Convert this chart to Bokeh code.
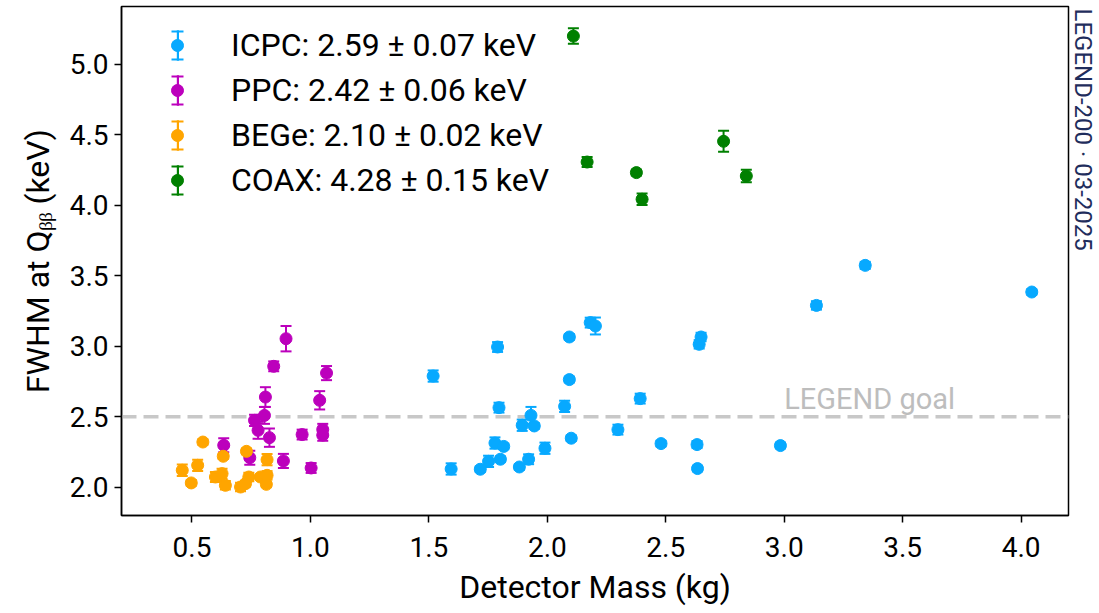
from bokeh.plotting import figure
from bokeh.models import (ColumnDataSource, Range1d, FixedTicker, Span, Label, Title,
                          Legend, LegendItem, NumeralTickFormatter)
from bokeh.embed import file_html
from bokeh.resources import INLINE

# ---------------- data ----------------
icpc_mass = [1.518, 1.790, 1.796, 1.779, 1.816, 1.802, 1.752, 1.717, 1.594, 1.882,
             1.921, 1.990, 1.894, 1.945, 1.931, 2.073, 2.093, 2.093, 2.101, 2.181,
             2.203, 2.298, 2.392, 2.480, 2.632, 2.634, 2.649, 2.641, 2.984, 3.136,
             3.342, 4.045]
icpc_fwhm = [2.789, 2.995, 2.565, 2.314, 2.290, 2.199, 2.184, 2.128, 2.130, 2.144,
             2.199, 2.277, 2.440, 2.435, 2.510, 2.574, 2.764, 3.066, 2.348, 3.168,
             3.144, 2.409, 2.629, 2.310, 2.303, 2.133, 3.066, 3.014, 2.296, 3.290,
             3.574, 3.385]
icpc_err = [0.040, 0.035, 0.035, 0.040, 0.020, 0.020, 0.040, 0.020, 0.040, 0.020,
            0.035, 0.040, 0.040, 0.020, 0.060, 0.040, 0.020, 0.020, 0.020, 0.035,
            0.060, 0.035, 0.035, 0.020, 0.025, 0.020, 0.030, 0.030, 0.020, 0.030,
            0.025, 0.020]

ppc_mass = [0.897, 0.845, 1.068, 0.810, 1.039, 0.806, 0.764, 0.779, 0.827, 0.965,
            1.052, 1.052, 0.634, 0.744, 0.886, 1.003]
ppc_fwhm = [3.054, 2.858, 2.810, 2.640, 2.617, 2.510, 2.475, 2.404, 2.352, 2.374,
            2.410, 2.370, 2.298, 2.210, 2.187, 2.137]
ppc_err = [0.090, 0.035, 0.050, 0.070, 0.065, 0.060, 0.040, 0.060, 0.065, 0.035,
           0.040, 0.040, 0.050, 0.050, 0.050, 0.035]

bege_mass = [0.546, 0.632, 0.730, 0.817, 0.459, 0.524, 0.497, 0.599, 0.641, 0.627,
             0.705, 0.726, 0.740, 0.789, 0.817, 0.814]
bege_fwhm = [2.321, 2.220, 2.255, 2.196, 2.121, 2.156, 2.031, 2.073, 2.014, 2.097,
             2.002, 2.026, 2.073, 2.073, 2.085, 2.021]
bege_err = [0.020, 0.020, 0.020, 0.040, 0.040, 0.040, 0.020, 0.035, 0.030, 0.035,
            0.030, 0.020, 0.030, 0.020, 0.030, 0.020]

coax_mass = [2.110, 2.168, 2.376, 2.400, 2.744, 2.840]
coax_fwhm = [5.200, 4.307, 4.232, 4.043, 4.454, 4.208]
coax_err = [0.055, 0.035, 0.020, 0.040, 0.075, 0.045]

series_labels = ["ICPC: 2.59 \u00b1 0.07 keV", "PPC: 2.42 \u00b1 0.06 keV",
                 "BEGe: 2.10 \u00b1 0.02 keV", "COAX: 4.28 \u00b1 0.15 keV"]
series_colors = ["#07A9FF", "#BC00BC", "#FFA500", "#008000"]

goal_fwhm = 2.5
goal_text = "LEGEND goal"
goal_text_x = 3.0
xticks = [0.5, 1.0, 1.5, 2.0, 2.5, 3.0, 3.5, 4.0]
yticks = [2.0, 2.5, 3.0, 3.5, 4.0, 4.5, 5.0]
stamp_text = "LEGEND-200 \u00b7 03-2025"

FONT = "Roboto"

# ---------------- figure ----------------
p = figure(width=1098, height=608, output_backend="svg", toolbar_location=None,
           x_range=Range1d(0.2025, 4.2), y_range=Range1d(1.80, 5.41),
           min_border_left=121, min_border_right=30, min_border_top=6,
           min_border_bottom=93, background_fill_color="white",
           border_fill_color="white")
p.grid.visible = False
p.outline_line_color = "black"
p.outline_line_width = 1.5
p.outline_line_alpha = 1.0

p.xaxis.ticker = FixedTicker(ticks=xticks)
p.yaxis.ticker = FixedTicker(ticks=yticks)
p.xaxis.formatter = NumeralTickFormatter(format="0.0")
p.yaxis.formatter = NumeralTickFormatter(format="0.0")
p.xaxis.axis_label = "Detector Mass (kg)"
p.yaxis.axis_label = "FWHM at Q\u1d66\u1d66 (keV)"
for ax in (p.xaxis[0], p.yaxis[0]):
    ax.axis_line_color = "black"
    ax.axis_line_width = 1.5
    ax.major_tick_line_color = "black"
    ax.major_tick_line_width = 1.5
    ax.major_tick_out = 7
    ax.major_tick_in = 0
    ax.minor_tick_line_color = None
    ax.major_label_text_font = FONT
    ax.major_label_text_font_size = "28px"
    ax.major_label_text_color = "black"
    ax.axis_label_text_font = FONT
    ax.axis_label_text_font_size = "32px"
    ax.axis_label_text_font_style = "normal"
    ax.axis_label_text_color = "black"
p.xaxis.major_label_standoff = 14
p.yaxis.major_label_standoff = 6
p.xaxis.axis_label_standoff = 8
p.yaxis.axis_label_standoff = 10

# goal line + label
p.add_layout(Span(location=goal_fwhm, dimension="width", line_color="#C8C8C8",
                  line_width=3.5, line_dash="15 7", level="underlay"))
p.add_layout(Label(x=goal_text_x, y=goal_fwhm, y_offset=18, text=goal_text,
                   text_font=FONT, text_font_size="29px", text_color="#BDBDBD",
                   text_align="left", text_baseline="alphabetic"))

# ---------------- series ----------------
datasets = [(icpc_mass, icpc_fwhm, icpc_err), (ppc_mass, ppc_fwhm, ppc_err),
            (bege_mass, bege_fwhm, bege_err), (coax_mass, coax_fwhm, coax_err)]

main_items, body_items, capt_items, capb_items = [], [], [], []
for (m, f, e), lab, col in zip(datasets, series_labels, series_colors):
    src = ColumnDataSource(dict(x=m, y=f,
                                lo=[a - b for a, b in zip(f, e)],
                                hi=[a + b for a, b in zip(f, e)],
                                h=[2 * b for b in e]))
    body = p.rect(x="x", y="y", width=2, height="h", width_units="screen",
                  source=src, fill_color=col, line_color=None)
    capt = p.scatter(x="x", y="hi", source=src, marker="dash", size=11,
                     line_color=col, line_width=2)
    capb = p.scatter(x="x", y="lo", source=src, marker="dash", size=11,
                     line_color=col, line_width=2)
    pts = p.scatter(x="x", y="y", source=src, marker="circle", size=12,
                    fill_color=col, line_color=col, line_width=1)
    main_items.append(LegendItem(label=lab, renderers=[pts]))
    body_items.append(LegendItem(label="", renderers=[body]))
    capt_items.append(LegendItem(label="", renderers=[capt]))
    capb_items.append(LegendItem(label="", renderers=[capb]))

common = dict(padding=0, margin=0, spacing=7, label_height=38, glyph_height=38,
              border_line_color=None, background_fill_alpha=0,
              label_text_font=FONT, label_text_font_size="32px",
              label_text_color="black")
leg_body = Legend(items=body_items, location=(54.5, 316), glyph_width=3, **common)
leg_capt = Legend(items=capt_items, location=(41, 330), glyph_width=30, **common)
leg_capb = Legend(items=capb_items, location=(41, 302), glyph_width=30, **common)
leg_main = Legend(items=main_items, location=(41, 316), glyph_width=30,
                  label_standoff=39, **common)
for lg in (leg_body, leg_capt, leg_capb, leg_main):
    p.add_layout(lg)

# vertical stamp on the right
p.add_layout(Title(text=stamp_text, align="left", text_font=FONT,
                   text_font_size="24px", text_font_style="normal",
                   text_color="#1F2D5C", standoff=0, offset=2), "right")

open("out.html", "w").write(file_html(p, INLINE))
